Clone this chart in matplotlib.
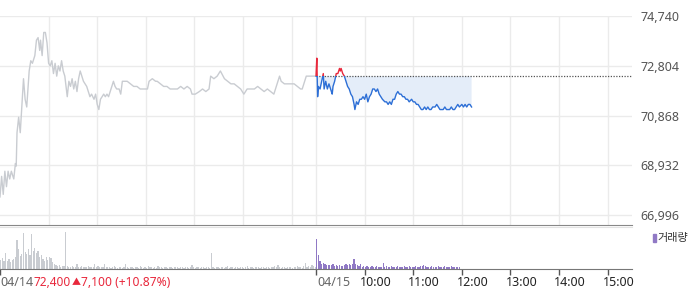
import numpy as np
import matplotlib
matplotlib.use('Agg')
import matplotlib.pyplot as plt
import matplotlib.transforms as mtransforms
from matplotlib.patches import Rectangle

plt.rcParams['font.family'] = ['Noto Sans', 'Noto Sans CJK KR', 'DejaVu Sans']

# minutes since 09:00, 04/14 session (0..390)
prev_t = [0, 2, 4, 6, 8, 10, 12, 14, 17, 19, 20, 21, 23, 25, 29, 31, 33, 36, 38, 40,
          43, 45, 47, 49, 50, 52, 54, 56, 58, 60, 62, 64, 66, 68, 70, 72, 74, 76, 78, 80,
          83, 85, 87, 89, 91, 93, 95, 97, 99, 101, 103, 105, 107, 109, 111, 113, 116, 118, 120, 122,
          124, 126, 128, 130, 132, 134, 136, 138, 140, 142, 144, 147, 149, 151, 153, 155, 157, 161, 165, 169,
          173, 177, 182, 184, 188, 192, 194, 198, 202, 206, 210, 215, 219, 223, 227, 231, 235, 237, 241, 246,
          250, 254, 258, 260, 264, 268, 272, 277, 281, 285, 289, 293, 297, 301, 305, 310, 314, 318, 322, 326,
          330, 334, 338, 343, 345, 347, 351, 355, 359, 363, 367, 371, 373, 376, 378, 390]
prev_p = [67700, 68500, 67800, 68700, 68100, 68700, 68400, 68700, 68400, 69000, 68900, 70200, 70800, 70200, 72300, 71500, 71200, 72600, 73000, 72900,
          73200, 73800, 73900, 73400, 73800, 73200, 74100, 74100, 73700, 72900, 72800, 73000, 72500, 72900, 72400, 72800, 72600, 73000, 72600, 72400,
          71600, 72200, 72000, 72300, 71900, 72200, 71800, 72300, 72600, 72400, 72200, 72100, 72000, 71800, 71600, 71700, 71500, 71700, 71300, 71100,
          71500, 71600, 71700, 71600, 71700, 71600, 71800, 72000, 72200, 72000, 71900, 71900, 71700, 72200, 72200, 72200, 72200, 72100, 72000, 72000,
          71900, 71900, 71900, 72200, 72300, 72200, 72200, 72100, 72000, 72000, 71900, 71900, 71900, 72000, 71900, 72000, 71900, 71700, 71700, 71800,
          71900, 71800, 71900, 72400, 72300, 72400, 72600, 72300, 72200, 72100, 72100, 72000, 71900, 71700, 71900, 71900, 71900, 72000, 71900, 71800,
          71900, 71800, 71700, 72200, 72400, 72200, 72100, 72100, 72100, 72100, 72000, 71900, 71900, 72200, 72400, 72400]

# minutes since 09:00, 04/15 session
today_t = [0, 1, 2, 3, 5, 7, 9, 10, 12, 14, 16, 19, 20, 21, 23, 25, 27, 29, 30, 31,
           33, 35, 37, 39, 41, 43, 45, 47, 48, 50, 52, 54, 56, 58, 60, 62, 64, 66, 68, 70,
           72, 74, 76, 78, 80, 82, 85, 87, 89, 91, 93, 95, 97, 99, 101, 103, 105, 107, 109, 111,
           113, 115, 118, 120, 122, 124, 126, 128, 130, 132, 134, 136, 138, 140, 142, 144, 147, 149, 151, 153,
           155, 157, 159, 161, 163, 165, 167, 169, 171, 173, 175, 177, 180, 182, 184, 186, 188, 190, 192]
today_p = [72400, 73100, 71600, 72000, 71900, 72200, 72500, 71900, 72200, 71900, 72100, 71800, 71700, 72000, 72200, 72500, 72500, 72700, 72600, 72700,
           72500, 72400, 72200, 72000, 71900, 71700, 71600, 71300, 71100, 71400, 71300, 71500, 71500, 71600, 71500, 71700, 71400, 71600, 71700, 71900,
           71900, 71800, 71900, 71700, 71600, 71500, 71400, 71400, 71300, 71400, 71300, 71500, 71500, 71700, 71800, 71700, 71700, 71600, 71600, 71500,
           71500, 71400, 71500, 71400, 71400, 71300, 71300, 71200, 71100, 71100, 71200, 71100, 71200, 71100, 71100, 71200, 71200, 71300, 71200, 71100,
           71100, 71100, 71200, 71100, 71100, 71100, 71200, 71100, 71100, 71200, 71300, 71200, 71300, 71200, 71300, 71200, 71300, 71300, 71200]
prev_close = 72400

# volume (thousand shares), 2-minute buckets
vol_prev = [9, 11, 8, 16, 8, 10, 7, 9, 10, 12, 29, 20, 13, 15, 36,
            17, 15, 20, 14, 35, 18, 21, 16, 18, 12, 14, 10, 8, 12, 9,
            12, 11, 7, 5, 4, 3, 4, 2, 3, 3, 37, 3, 2, 2, 3,
            2, 2, 5, 2, 2, 3, 2, 2, 2, 3, 2, 2, 2, 5, 2,
            3, 2, 2, 2, 5, 2, 2, 2, 1, 2, 3, 2, 1, 2, 2,
            1, 2, 5, 2, 1, 2, 2, 1, 2, 2, 1, 3, 2, 1, 2,
            1, 3, 2, 2, 1, 2, 1, 3, 2, 2, 1, 2, 2, 1, 2,
            2, 1, 2, 2, 2, 1, 2, 2, 1, 2, 2, 1, 2, 4, 2,
            1, 2, 2, 1, 2, 2, 1, 2, 2, 1, 16, 2, 1, 2, 2,
            1, 2, 2, 1, 2, 3, 1, 2, 2, 1, 2, 2, 1, 2, 2,
            1, 2, 3, 1, 2, 2, 1, 2, 2, 2, 1, 2, 2, 1, 2,
            2, 1, 2, 2, 3, 2, 4, 2, 1, 2, 2, 1, 2, 2, 2,
            1, 2, 2, 3, 2, 2, 1, 3, 6, 2, 3, 2, 4, 3, 2]
vol_today = [30, 14, 8, 5, 6, 5, 4, 4, 4, 4, 5, 3, 4, 3, 4,
             3, 3, 4, 5, 4, 5, 4, 5, 10, 5, 4, 3, 5, 2, 3,
             2, 3, 2, 2, 3, 2, 2, 3, 2, 2, 2, 6, 2, 3, 2,
             2, 3, 2, 2, 2, 3, 2, 2, 2, 3, 2, 2, 3, 2, 2,
             2, 3, 2, 2, 3, 3, 4, 3, 2, 2, 2, 3, 2, 2, 2,
             3, 2, 2, 2, 3, 2, 2, 2, 3, 2, 2, 2, 2, 2]

y_ticks = [66996, 68932, 70868, 72804, 74740]
hour_ticks = [60, 120, 180, 240, 300, 360]
hour_labels = ['10:00', '11:00', '12:00', '13:00', '14:00', '15:00']
day_len = 390

c_grey = '#c9ccd1'
c_blue = '#2d6fd6'
c_red = '#e8283c'
c_fill = '#e4edf9'
c_purple = '#9079c5'

W, H = 700, 289
fig = plt.figure(figsize=(W / 100, H / 100), dpi=100)
ax = fig.add_axes([0, 1 - 225 / H, 632 / W, 209 / H])
axv = fig.add_axes([0, 1 - 268.5 / H, 632 / W, 41.5 / H])

# price panel
tt = np.array(today_t) + day_len
pp = np.array(today_p)
ax.plot(prev_t, prev_p, color=c_grey, lw=1)
ax.fill_between(tt, pp, prev_close, where=pp <= prev_close, interpolate=True,
                color=c_fill, lw=0)
ax.hlines(prev_close, day_len, 2 * day_len, colors='#555555', lw=0.9,
          linestyles=(0, (1, 1.2)))
lb, = ax.plot(tt, pp, color=c_blue, lw=1)
lr, = ax.plot(tt, pp, color=c_red, lw=1)
lb.set_clip_path(Rectangle((0, 60000), 2 * day_len, prev_close - 60000, transform=ax.transData))
lr.set_clip_path(Rectangle((0, prev_close), 2 * day_len, 10000, transform=ax.transData))

ax.set_xlim(0, 2 * day_len)
ax.set_ylim(66608, 74740)
ax.set_yticks(y_ticks)
ax.set_yticklabels([f'{v:,}' for v in y_ticks])
ax.yaxis.tick_right()
ax.tick_params(axis='y', length=0, pad=6, labelsize=9, labelcolor='#555555')
ax.set_xticks(hour_ticks + [day_len] + [day_len + h for h in hour_ticks])
ax.tick_params(axis='x', length=0, labelbottom=False)
ax.grid(color='#ebebeb', lw=1)
ax.set_axisbelow(True)
for s in ['top', 'left', 'right']:
    ax.spines[s].set_visible(False)
ax.spines['bottom'].set_color('#888888')

# volume panel
axv.bar(np.arange(len(vol_prev)) * 2 + 1, vol_prev, width=1.5, color=c_grey, lw=0)
axv.bar(day_len + np.arange(len(vol_today)) * 2 + 1, vol_today, width=1.5, color=c_purple, lw=0)
axv.set_xlim(0, 2 * day_len)
axv.set_ylim(0, 41.5)
axv.set_yticks([])
axv.set_xticks([0, day_len] + [day_len + h for h in hour_ticks])
axv.tick_params(axis='x', length=4, width=1, color='#555555', labelbottom=False)
for s in ['left', 'right']:
    axv.spines[s].set_visible(False)
axv.spines['top'].set_color('#e3e3e3')
axv.spines['bottom'].set_color('#777777')

fig.patches.append(Rectangle((653 / W, 1 - 242 / H), 2.5 / W, 8 / H,
                             transform=fig.transFigure, color=c_purple))
fig.text(657 / W, 1 - 238 / H, '거래량', fontsize=8, color='#333333', va='center')

# x labels
trans = mtransforms.blended_transform_factory(axv.transData, fig.transFigure)
ylab = 1 - 283 / H
ax_txt = dict(va='center', ha='left')


def label(x, s, dx, color, size=9):
    axv.text(x, ylab, s, color=color, fontsize=size,
             transform=mtransforms.offset_copy(trans, fig, x=dx, units='dots'), **ax_txt)


label(0, '04/14', 0, '#666666')
label(0, '72,400', 33, c_red, size=8.5)
label(0, '▲', 72, c_red, size=6.5)
label(0, '7,100 (+10.87%)', 81, c_red, size=8.7)
label(day_len, '04/15', 1, '#666666')
for h, lab in zip(hour_ticks, hour_labels):
    label(day_len + h, lab, -5, '#222222')

fig.savefig('out.png', dpi=100)
